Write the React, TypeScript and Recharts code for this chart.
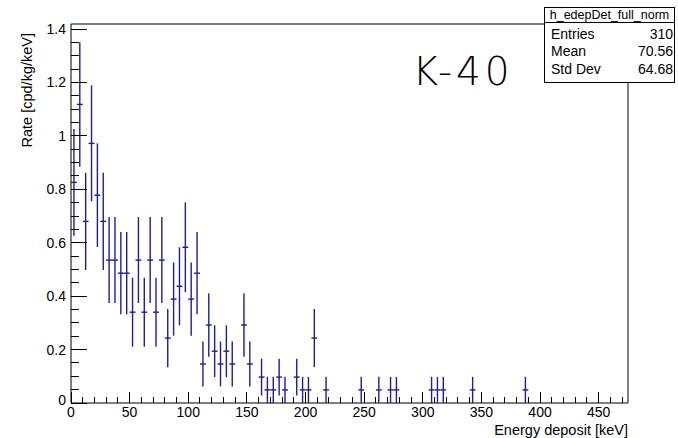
import { ComposedChart, Scatter, ErrorBar, XAxis, YAxis, ReferenceArea } from "recharts";

// non-empty 5 keV bins, centres in keV
const binCenters = [
  2.5, 7.5, 12.5, 17.5, 22.5, 27.5, 32.5, 37.5, 42.5, 47.5,
  52.5, 57.5, 62.5, 67.5, 72.5, 77.5, 82.5, 87.5, 92.5, 97.5,
  102.5, 107.5, 112.5, 117.5, 122.5, 127.5, 132.5, 137.5, 147.5, 152.5,
  162.5, 167.5, 172.5, 177.5, 182.5, 192.5, 197.5, 202.5, 207.5, 217.5,
  247.5, 262.5, 272.5, 277.5, 307.5, 312.5, 317.5, 342.5, 387.5,
];

const rates = [
  0.826, 1.118, 0.68, 0.972, 0.778, 0.68, 0.535, 0.535, 0.486, 0.486,
  0.34, 0.535, 0.34, 0.535, 0.34, 0.535, 0.243, 0.389, 0.437, 0.583,
  0.389, 0.486, 0.146, 0.292, 0.194, 0.146, 0.194, 0.146, 0.292, 0.146,
  0.097, 0.049, 0.049, 0.097, 0.049, 0.097, 0.049, 0.049, 0.243, 0.049,
  0.049, 0.049, 0.049, 0.049, 0.049, 0.049, 0.049, 0.049, 0.049,
];

const rateErrors = [
  0.2, 0.233, 0.182, 0.217, 0.194, 0.182, 0.161, 0.161, 0.154, 0.154,
  0.129, 0.161, 0.129, 0.161, 0.129, 0.161, 0.109, 0.137, 0.146, 0.168,
  0.137, 0.154, 0.084, 0.119, 0.097, 0.084, 0.097, 0.084, 0.119, 0.084,
  0.069, 0.049, 0.049, 0.069, 0.049, 0.069, 0.049, 0.049, 0.109, 0.049,
  0.049, 0.049, 0.049, 0.049, 0.049, 0.049, 0.049, 0.049, 0.049,
];

const binHalfWidth = 2.5;

const xMajorTicks = [0, 50, 100, 150, 200, 250, 300, 350, 400, 450];
const yMajorTicks = [0, 0.2, 0.4, 0.6, 0.8, 1, 1.2, 1.4];

const statsRows = [
  ["Entries", "310"],
  ["Mean", "70.56"],
  ["Std Dev", "64.68"],
];

const xMax = 475;
const yMax = 1.419;
const FONT = '"Liberation Sans", Arial, sans-serif';
const BLUE = "#1c1ca6";

const points = binCenters.map((x, i) => ({
  x,
  y: rates[i],
  ex: binHalfWidth,
  ey: rateErrors[i],
}));

// minor ticks: every 10 keV, every 0.05
const xTicks: number[] = [];
for (let v = 0; v <= 470; v += 10) xTicks.push(v);
const yTicks: number[] = [];
for (let k = 0; k <= 28; k++) yTicks.push(Number((k * 0.05).toFixed(2)));

function XTick({ x, y, payload }: any) {
  const major = xMajorTicks.includes(payload.value);
  return (
    <g>
      <line x1={x} x2={x} y1={y} y2={y - (major ? 11 : 6)} stroke="#000" shapeRendering="crispEdges" />
      {major && (
        <text x={x} y={y + 14} textAnchor="middle" fontSize={14} fontFamily={FONT} fill="#000">
          {payload.value}
        </text>
      )}
    </g>
  );
}

function YTick({ x, y, payload }: any) {
  const major = yMajorTicks.includes(payload.value);
  const dy = payload.value === 0 ? 2 : 5;
  return (
    <g>
      <line x1={x} x2={x + (major ? 16 : 8)} y1={y} y2={y} stroke="#000" shapeRendering="crispEdges" />
      {major && (
        <text x={x - 5} y={y + dy} textAnchor="end" fontSize={14} fontFamily={FONT} fill="#000">
          {payload.value}
        </text>
      )}
    </g>
  );
}

export default function App() {
  return (
    <div style={{ position: "absolute", left: 0, top: 0, width: 678, height: 438, background: "#fff" }}>
      <ComposedChart width={678} height={438} data={points} margin={{ top: 24, right: 50, bottom: 0, left: 0 }}>
        <XAxis
          dataKey="x"
          type="number"
          domain={[0, xMax]}
          ticks={xTicks}
          interval={0}
          tickSize={0}
          tickMargin={0}
          tickLine={false}
          axisLine={false}
          tick={<XTick />}
          height={35}
          label={{
            content: ({ viewBox }: any) => (
              <text
                x={viewBox.x + viewBox.width}
                y={viewBox.y + 32}
                textAnchor="end"
                fontSize={14.5}
                fontFamily={FONT}
                fill="#000"
              >
                Energy deposit [keV]
              </text>
            ),
          }}
        />
        <YAxis
          dataKey="y"
          type="number"
          domain={[0, yMax]}
          ticks={yTicks}
          interval={0}
          tickSize={0}
          tickMargin={0}
          tickLine={false}
          axisLine={false}
          tick={<YTick />}
          width={71}
          label={{
            content: ({ viewBox }: any) => (
              <text
                x={viewBox.x + 27}
                y={viewBox.y + 9}
                transform={`rotate(-90 ${viewBox.x + 27} ${viewBox.y + 9})`}
                textAnchor="end"
                dominantBaseline="central"
                fontSize={14.5}
                fontFamily={FONT}
                fill="#000"
              >
                Rate [cpd/kg/keV]
              </text>
            ),
          }}
        />
        <ReferenceArea
          x1={0}
          x2={xMax}
          y1={0}
          y2={yMax}
          fill="none"
          stroke="#000"
          strokeWidth={1}
          ifOverflow="visible"
        />
        <Scatter dataKey="y" isAnimationActive={false} shape={() => <g />}>
          <ErrorBar dataKey="ex" direction="x" width={0} stroke={BLUE} strokeWidth={1.4} />
          <ErrorBar dataKey="ey" direction="y" width={0} stroke={BLUE} strokeWidth={1.4} />
        </Scatter>
      </ComposedChart>

      <div
        style={{
          position: "absolute",
          left: 463,
          top: 71,
          transform: "translate(-50%, -50%)",
          fontFamily: '"DejaVu Sans", sans-serif',
          fontWeight: 200,
          fontSize: 39,
          letterSpacing: 4,
          color: "#000",
          whiteSpace: "nowrap",
        }}
      >
        K-40
      </div>

      <div
        style={{
          position: "absolute",
          left: 544,
          top: 7,
          width: 131,
          height: 76,
          boxSizing: "border-box",
          border: "1px solid #000",
          background: "#fff",
          fontFamily: FONT,
          color: "#000",
        }}
      >
        <div
          style={{
            height: 14,
            lineHeight: "14px",
            borderBottom: "1px solid #000",
            fontSize: 12.5,
            textAlign: "center",
            whiteSpace: "nowrap",
          }}
        >
          h_edepDet_full_norm
        </div>
        <div style={{ paddingTop: 3 }}>
          {statsRows.map(([name, val]) => (
            <div
              key={name}
              style={{
                display: "flex",
                justifyContent: "space-between",
                height: 17.3,
                lineHeight: "17px",
                fontSize: 14,
                padding: "0 1px 0 6px",
              }}
            >
              <span>{name}</span>
              <span>{val}</span>
            </div>
          ))}
        </div>
      </div>
    </div>
  );
}
